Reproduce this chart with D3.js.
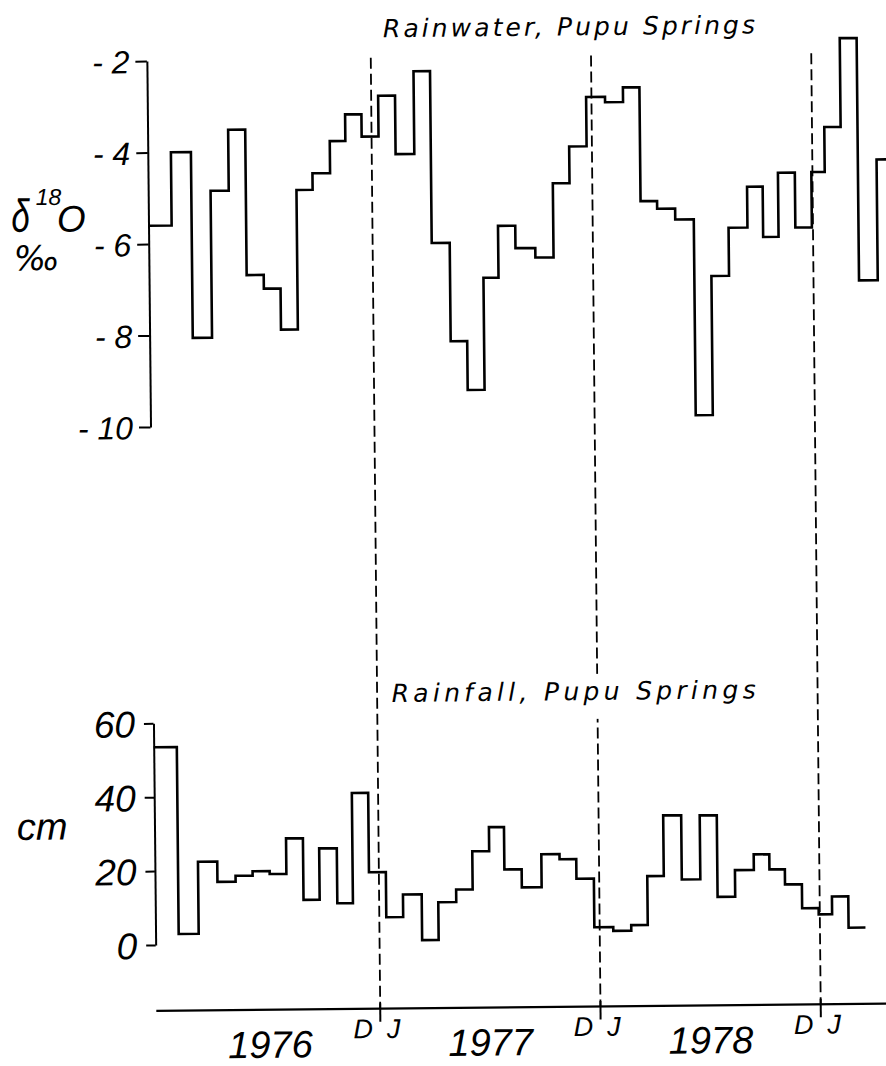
<!DOCTYPE html>
<html><head><meta charset="utf-8">
<script src="https://cdn.jsdelivr.net/npm/d3@7"></script>
<style>
html,body{margin:0;padding:0;background:#fff;}
svg{display:block;background:#fff;}
text{font-family:"Liberation Sans", Arial, sans-serif; font-style:italic; fill:#000;}
text.dv{font-family:"DejaVu Sans", sans-serif;}
</style></head><body>
<svg id="chart" width="886" height="1066"></svg>
<script>
// sampling period boundaries, in months since 1 Jan 1976
const periodEdges = [-0.2, 1.06, 2.15, 3.2, 4.19, 5.12, 6.05, 6.96, 7.88, 8.76, 9.72, 10.57, 11.46,
  12.38, 13.3, 14.32, 15.22, 16.2, 17.1, 18.02, 18.84, 19.78, 20.86, 21.85, 22.76, 23.71,
  24.74, 25.72, 26.62, 27.52, 28.5, 29.51, 30.44, 31.4, 32.43, 33.28, 34.12, 35.04, 35.94,
  36.67, 37.56, 38.48, 39.5, 40.6];
// δ18O of rainwater (‰), one value per sampling period
const delta18O = [-5.6, -4.0, -8.06, -4.85, -3.52, -6.7, -7.0, -7.9, -4.85, -4.49, -3.79, -3.21,
  -3.7, -2.81, -4.09, -2.28, -6.04, -8.19, -9.26, -6.81, -5.68, -6.17, -6.38, -4.76, -3.96,
  -2.88, -3.0, -2.68, -5.17, -5.34, -5.58, -9.86, -6.82, -5.77, -4.88, -5.98, -4.58, -5.78,
  -4.57, -3.59, -1.65, -6.95, -4.31];
// rainfall (cm), one value per sampling period
const rainfallCm = [53.5, 2.9, 22.4, 16.9, 18.5, 19.7, 18.9, 28.5, 11.8, 25.7, 10.8, 40.6,
  19.1, 6.9, 13.0, 0.6, 10.8, 14.2, 24.5, 31.0, 19.5, 14.6, 23.5, 22.1, 16.8,
  3.6, 2.6, 4.1, 17.3, 33.7, 16.3, 33.6, 11.5, 18.7, 22.9, 18.8, 14.7, 8.2, 6.5, 11.3, 2.8];
const isoTicks = [-2, -4, -6, -8, -10];
const rainTicks = [0, 20, 40, 60];
const yearLabels = ["1976", "1977", "1978"];
const yearMid = [6, 18, 30];
const yearBreaks = [12, 24, 36];
const titles = ["Rainwater, Pupu Springs", "Rainfall, Pupu Springs"];

const svg = d3.select("#chart");
const g = svg.append("g").attr("transform", "rotate(-0.57,443,533)");

const x = d3.scaleLinear().domain([0, 36]).range([155.25, 816]);
const yIso = d3.scaleLinear().domain([-10, -2]).range([424.1, 58.1]);
const yRain = d3.scaleLinear().domain([0, 60]).range([942.1, 720.4]);
const axisX = x(periodEdges[0]);

function stepPoints(vals) {
  const pts = [];
  vals.forEach((v, i) => { pts.push([periodEdges[i], v]); pts.push([periodEdges[i + 1], v]); });
  return pts;
}

// dashed year-boundary lines
g.selectAll("line.dash").data(yearBreaks).join("line")
  .attr("class", "dash")
  .attr("x1", d => x(d)).attr("x2", d => x(d))
  .attr("y1", 57).attr("y2", 1008)
  .attr("stroke", "#000").attr("stroke-width", 1.8).attr("stroke-dasharray", "11,5");

// titles (with white backing that interrupts the dashed lines)
const titlePos = [{x: 388, y: 36.6, len: 372}, {x: 390, y: 701.4, len: 364}];
titles.forEach((t, i) => {
  const tg = g.append("g");
  const rect = tg.append("rect").attr("fill", "#fff");
  const tx = tg.append("text").attr("class", "dv").attr("x", titlePos[i].x).attr("y", titlePos[i].y)
    .attr("font-size", 25).attr("textLength", titlePos[i].len).attr("lengthAdjust", "spacing")
    .text(t);
  const bb = tx.node().getBBox();
  rect.attr("x", bb.x - 3).attr("y", bb.y - 3).attr("width", bb.width + 6).attr("height", bb.height + 16);
});

// top axis
const aTop = g.append("g").attr("transform", `translate(${axisX},0)`)
  .call(d3.axisLeft(yIso).tickValues(isoTicks).tickSize(11.5).tickSizeOuter(0).tickPadding(6)
    .tickFormat(d => "- " + Math.abs(d)));
// bottom axis
const aBot = g.append("g").attr("transform", `translate(${axisX},0)`)
  .call(d3.axisLeft(yRain).tickValues(rainTicks).tickSize(9.5).tickSizeOuter(0).tickPadding(9)
    .tickFormat(d => String(d)));
[aTop, aBot].forEach((a, i) => {
  a.attr("font-family", null).attr("font-size", null);
  a.select(".domain").attr("stroke-width", 2);
  a.selectAll(".tick line").attr("stroke-width", 2);
  a.selectAll(".tick text").attr("font-size", i === 0 ? 32 : 37).attr("dy", "0.36em");
});

// step lines
g.append("path").datum(stepPoints(delta18O))
  .attr("d", d3.line().x(d => x(d[0])).y(d => yIso(d[1])))
  .attr("fill", "none").attr("stroke", "#000").attr("stroke-width", 2.6);
g.append("path").datum(stepPoints(rainfallCm))
  .attr("d", d3.line().x(d => x(d[0])).y(d => yRain(d[1])))
  .attr("fill", "none").attr("stroke", "#000").attr("stroke-width", 2.6);

// time axis
g.append("line").attr("x1", axisX).attr("x2", x(periodEdges[periodEdges.length - 1]))
  .attr("y1", 1008).attr("y2", 1008).attr("stroke", "#000").attr("stroke-width", 2.2);
g.selectAll("line.ytick").data(yearBreaks).join("line").attr("class", "ytick")
  .attr("x1", d => x(d)).attr("x2", d => x(d)).attr("y1", 1002.5).attr("y2", 1021)
  .attr("stroke", "#000").attr("stroke-width", 2);
g.selectAll("text.D").data(yearBreaks).join("text").attr("class", "D")
  .attr("x", d => x(d) - 7.5).attr("y", 1037.4).attr("text-anchor", "end").attr("font-size", 27).text("D");
g.selectAll("text.J").data(yearBreaks).join("text").attr("class", "J")
  .attr("x", d => x(d) + 6.5).attr("y", 1037.4).attr("text-anchor", "start").attr("font-size", 27).text("J");
g.selectAll("text.year").data(yearLabels).join("text").attr("class", "year")
  .attr("x", (d, i) => x(yearMid[i])).attr("y", 1056).attr("text-anchor", "middle")
  .attr("font-size", 38).text(d => d);

// axis titles
g.append("text").attr("transform", "translate(14.5,227.5) scale(0.72,1)").attr("font-size", 46).text("δ");
g.append("text").attr("x", 39).attr("y", 201).attr("font-size", 23).text("18");
g.append("text").attr("x", 60).attr("y", 228).attr("font-size", 37).text("O");
g.append("text").attr("class", "dv").attr("x", 16.5).attr("y", 266).attr("font-size", 34).text("‰");
g.append("text").attr("x", 14).attr("y", 835.7).attr("font-size", 38).text("cm");
</script>
</body></html>
